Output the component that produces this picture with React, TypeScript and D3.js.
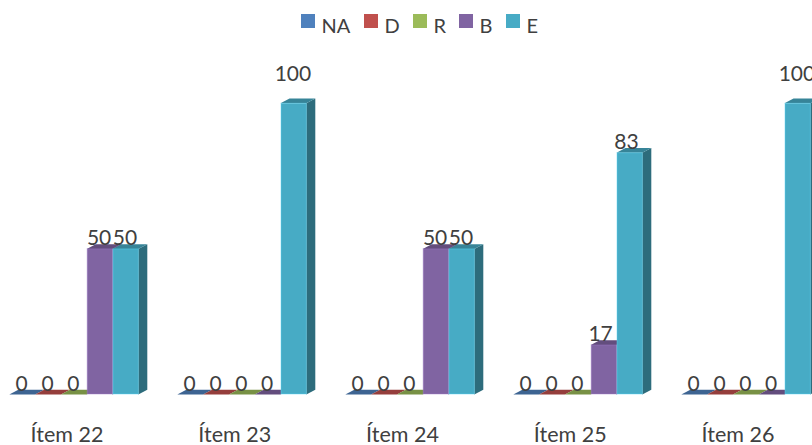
import React from "react";
import * as d3 from "d3";

const items = ["Ítem 22", "Ítem 23", "Ítem 24", "Ítem 25", "Ítem 26"];
const seriesNames = ["NA", "D", "R", "B", "E"];
const valuesNA = [0, 0, 0, 0, 0];
const valuesD = [0, 0, 0, 0, 0];
const valuesR = [0, 0, 0, 0, 0];
const valuesB = [50, 0, 50, 17, 0];
const valuesE = [50, 100, 50, 83, 100];
const allValues = [valuesNA, valuesD, valuesR, valuesB, valuesE];
const frontColors = ["#4f81bd", "#c0504d", "#9bbb59", "#8064a2", "#47abc5"];
const legendX = [301, 364, 413, 459, 506];

const W = 812, H = 445;
const FONT = "Lato, 'Open Sans', sans-serif";
const TEXT = "#404040";
const DX = 9, DY = 4.7;

const y = d3.scaleLinear().domain([0, 100]).range([394.5, 103.3]);
const x0 = d3.scaleBand<string>().domain(items).range([-10.2, -10.2 + 168 * 5]);
const x1 = d3.scaleBand<string>().domain(seriesNames).range([19.5, 148.5]);
const xAxis = d3.scalePoint<string>().domain(items).range([67, 738]);

const shade = (c: string, k: number) => d3.color(c)!.darker(k).formatHex();
const tint = (c: string, k: number) => d3.color(c)!.brighter(k).formatHex();

export default function App() {
  return (
    <svg width={W} height={H} style={{ position: "absolute", left: 0, top: 0, background: "#fff" }}>
      <g fontFamily={FONT} fontSize={20} fill={TEXT}>
        {seriesNames.map((s, i) => (
          <g key={s}>
            <rect x={legendX[i]} y={14} width={14} height={14} fill={frontColors[i]} />
            <text x={legendX[i] + 20.5} y={33}>{s}</text>
          </g>
        ))}
      </g>
      {items.map((it, g) => (
        <g key={it} transform={`translate(${x0(it)},0)`}>
          {seriesNames.map((s, i) => {
            const v = allValues[i][g];
            const xa = x1(s)!;
            const w = x1.bandwidth();
            const top = y(v), base = y(0);
            const c = frontColors[i];
            return (
              <g key={s}>
                <polygon
                  points={`${xa + w},${top} ${xa + w + DX},${top - DY} ${xa + w + DX},${base - DY} ${xa + w},${base}`}
                  fill={shade(c, 1.3)}
                />
                <polygon
                  points={`${xa},${top} ${xa + DX},${top - DY} ${xa + w + DX},${top - DY} ${xa + w},${top}`}
                  fill={shade(c, 0.72)}
                />
                {v > 0 && (
                  <rect x={xa + 0.5} y={top} width={w - 0.5} height={base - top - 0.5} fill={c}
                    stroke={tint(c, 0.6)} strokeOpacity={0.45} strokeWidth={1} />
                )}
              </g>
            );
          })}
        </g>
      ))}
      {items.map((it, g) => (
        <g key={it}>
          {seriesNames.map((s, i) => {
            const v = allValues[i][g];
            const ly = v === 100 ? y(v) - 22 : y(v) - 4;
            const nudge = v === 17 || v === 83 ? -2.5 : 0;
            return (
              <text key={s} x={x0(it)! + x1(s)! + x1.bandwidth() / 2 - 0.5 + nudge} y={ly} textAnchor="middle"
                fontFamily={FONT} fontSize={21} fill={TEXT}>{v}</text>
            );
          })}
          <text x={xAxis(it)!} y={441.5} textAnchor="middle"
            fontFamily={FONT} fontSize={21.5} fill={TEXT}>{it}</text>
        </g>
      ))}
    </svg>
  );
}
